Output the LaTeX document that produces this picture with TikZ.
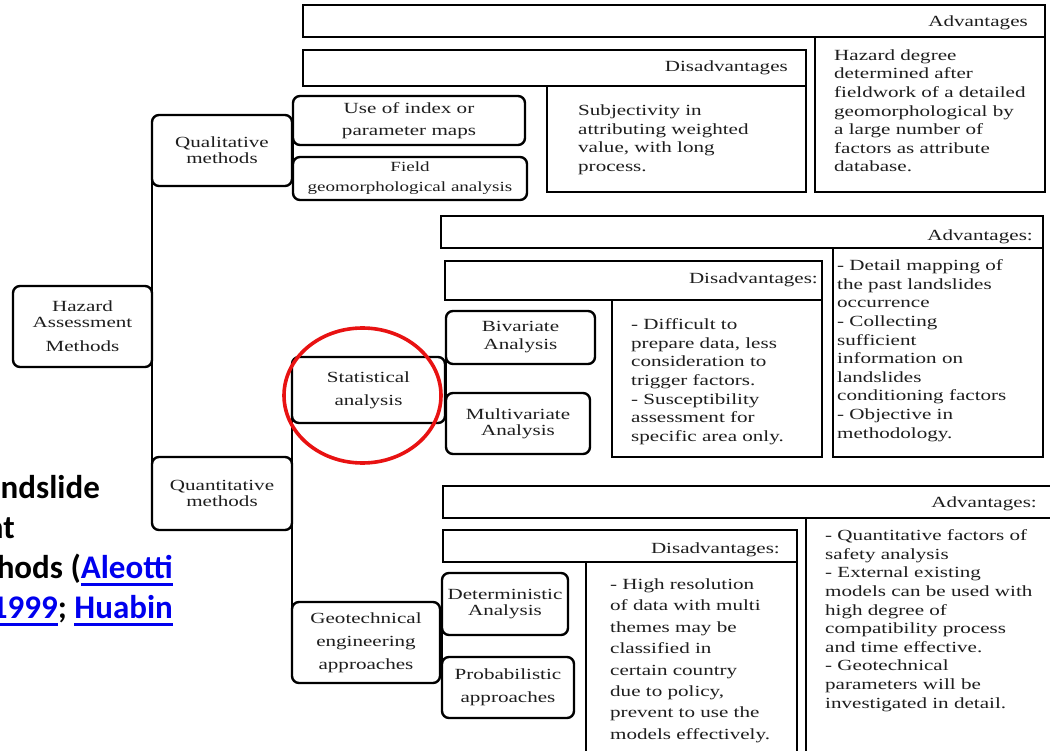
\documentclass[tikz,border=0pt]{standalone}
\usepackage{fontspec}
\setmainfont{Liberation Serif}[FakeStretch=1.36]
\newfontfamily\calibfont{Carlito}
\usetikzlibrary{shapes.geometric}
\definecolor{linkblue}{RGB}{0,0,238}
\definecolor{ink}{RGB}{30,30,30}
\definecolor{hlred}{RGB}{232,18,18}
\newcommand\lnk[1]{{\color{linkblue}\setbox0\hbox{#1}\rlap{\rule[-8pt]{\wd0}{2.8pt}}\box0}}
\newcommand\bx[6]{\node[#1, minimum width={#4-#2}, minimum height={#5-#3}] (#6) at (#2,#3)}
\tikzset{
  mbox/.style={draw, line width=2.4, rounded corners=7, anchor=north west, inner sep=0, outer sep=0, align=center, text=ink, font=\fontsize{15.5}{16}\selectfont},
  hbox/.style={draw, line width=2.4, anchor=north west, inner sep=0, outer sep=0},
  htxt/.style={anchor=base east, inner sep=0, text=ink, font=\fontsize{15.5}{18}\selectfont},
  ctxt/.style={anchor=north west, inner sep=0, align=left, text=ink, font=\fontsize{15.5}{18.6}\selectfont},
  conn/.style={line width=2.4},
  side/.style={anchor=base east, inner sep=0, font=\calibfont\fontsize{33}{40}\selectfont\bfseries}
}
\begin{document}
\begin{tikzpicture}[x=1pt,y=-1pt]
\useasboundingbox (0,0) rectangle (1050,751);
\clip (0,0) rectangle (1050,751);
\fill[white] (0,0) rectangle (1050,751);

% ---- qualitative: advantages / disadvantages
\bx{hbox}{303}{5}{1045}{37}{adv1} {};
\bx{hbox}{303}{50}{806}{86}{dis1} {};
\bx{hbox}{547}{86}{806}{192}{disc1} {};
\bx{hbox}{815}{37}{1045}{192}{advc1} {};
\node[htxt] (adv1t) at (1028,27) {Advantages};
\node[htxt] (dis1t) at (788,72) {Disadvantages};
\node[ctxt] (disc1t) at (578,104.5) {Subjectivity in\\attributing weighted\\value, with long\\process.};
\node[ctxt] (advc1t) at (834,49.4) {Hazard degree\\determined after\\fieldwork of a detailed\\geomorphological by\\a large number of\\factors as attribute\\database.};

% ---- statistical: advantages / disadvantages
\bx{hbox}{441}{216}{1043}{248}{adv2} {};
\bx{hbox}{445}{261}{822}{300}{dis2} {};
\bx{hbox}{612}{300}{822}{457}{disc2} {};
\bx{hbox}{833}{248}{1043}{457}{advc2} {};
\node[htxt] (adv2t) at (1033,241) {Advantages:};
\node[htxt] (dis2t) at (818,284) {Disadvantages:};
\node[ctxt] (disc2t) at (631,318.5) {- Difficult to\\prepare data, less\\consideration to\\trigger factors.\\- Susceptibility\\assessment for\\specific area only.};
\node[ctxt] (advc2t) at (837,259.5) {- Detail mapping of\\the past landslides\\occurrence\\- Collecting\\sufficient\\information on\\landslides\\conditioning factors\\- Objective in\\methodology.};

% ---- geotechnical: advantages / disadvantages
\bx{hbox}{443}{486}{1062}{518}{adv3} {};
\bx{hbox}{443}{530}{797}{562}{dis3} {};
\bx{hbox}{586}{562}{797}{762}{disc3} {};
\bx{hbox}{806}{518}{1062}{762}{advc3} {};
\node[htxt] (adv3t) at (1037,507) {Advantages:};
\node[htxt] (dis3t) at (780,553) {Disadvantages:};
\node[ctxt, font=\fontsize{15.5}{21.4}\selectfont] (disc3t) at (610,578.5) {- High resolution\\of data with multi\\themes may be\\classified in\\certain country\\due to policy,\\prevent to use the\\models effectively.};
\node[ctxt] (advc3t) at (825,529.5) {- Quantitative factors of\\safety analysis\\- External existing\\models can be used with\\high degree of\\compatibility process\\and time effective.\\- Geotechnical\\parameters will be\\investigated in detail.};

% ---- method boxes
\bx{mbox}{13}{286}{152}{367}{haz} {Hazard\\Assessment\\[8pt]Methods};
\bx{mbox}{152}{115}{292}{186}{qual} {Qualitative\\methods};
\bx{mbox}{293}{96}{525}{145}{use} {Use of index or\\[6pt]parameter maps};
\bx{mbox,font=\fontsize{14}{20}\selectfont}{293}{157}{527}{200}{field} {Field\\geomorphological analysis};
\bx{mbox}{152}{457}{292}{530}{quant} {Quantitative\\methods};
\bx{mbox}{292}{357}{445}{423}{stat} {Statistical\\[7pt]analysis};
\bx{mbox}{446}{311}{595}{364}{biv} {Bivariate\\[2pt]Analysis};
\bx{mbox}{446}{393}{590}{454}{multi} {Multivariate\\Analysis};
\bx{mbox}{292}{602}{440}{683}{geo} {Geotechnical\\[7pt]engineering\\[7pt]approaches};
\bx{mbox}{442}{573}{568}{635}{det} {Deterministic\\Analysis};
\bx{mbox}{442}{657}{574}{718}{prob} {Probabilistic\\[7pt]approaches};

% ---- connectors
\draw[conn] (qual.west) -- (quant.west);
\draw[conn] (use.west) -- (field.west);
\draw[conn] (stat.west) -- (geo.west);
\draw[conn] (biv.west) -- (multi.west);
\draw[conn] (det.west) -- (prob.west);

% ---- highlight ring
\node[ellipse, draw=hlred, line width=3.6, minimum width=157, minimum height=135, inner sep=0] (ring) at (362.5,395.5) {};

% ---- surrounding page text (cut off at the left)
\node[side] (lt1) at (100,498) {ndslide};
\node[side] (lt2) at (15,538) {nt};
\node[side] (lt3) at (173,578) {hods (\lnk{Aleotti}};
\node[side] (lt4) at (173,618) {\lnk{1999}; \lnk{Huabin}};
\end{tikzpicture}
\end{document}
